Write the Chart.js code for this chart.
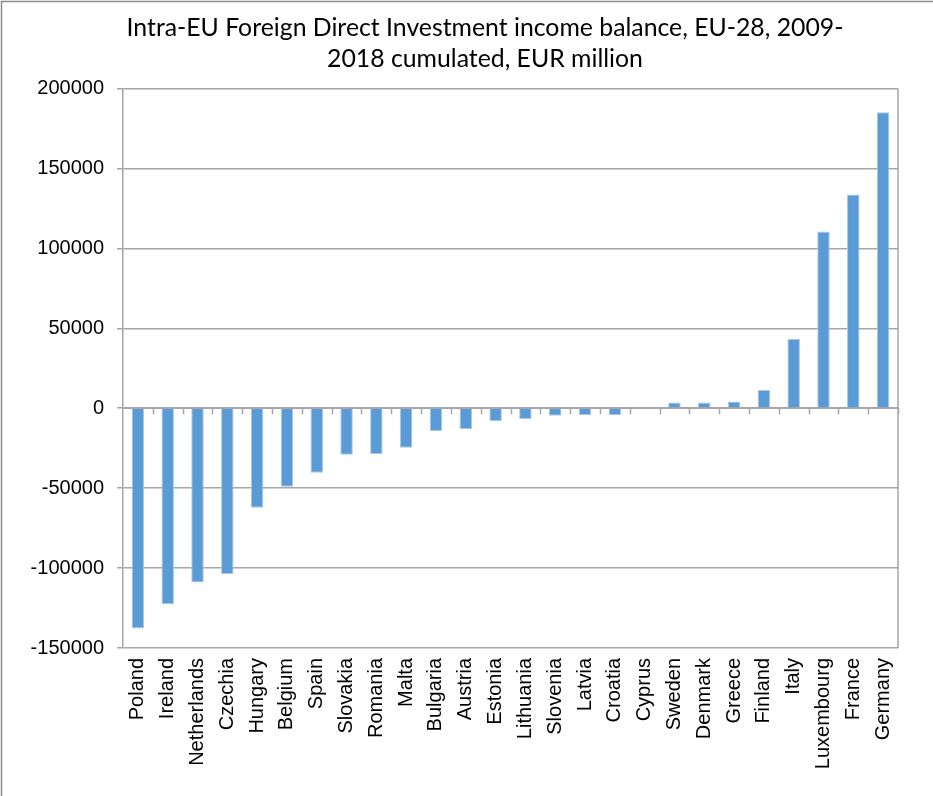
<!DOCTYPE html>
<html>
<head>
<meta charset="utf-8">
<script src="https://cdn.jsdelivr.net/npm/chart.js@4"></script>
<style>
  html, body { margin: 0; padding: 0; background: #fff; }
  #wrap { width: 933px; height: 796px; position: relative; }
</style>
</head>
<body>
<div id="wrap"><canvas id="fdi-chart"></canvas></div>
<script>
// countries, sorted by cumulated balance
const countries = ['Poland', 'Ireland', 'Netherlands', 'Czechia', 'Hungary', 'Belgium', 'Spain',
  'Slovakia', 'Romania', 'Malta', 'Bulgaria', 'Austria', 'Estonia', 'Lithuania', 'Slovenia',
  'Latvia', 'Croatia', 'Cyprus', 'Sweden', 'Denmark', 'Greece', 'Finland', 'Italy',
  'Luxembourg', 'France', 'Germany'];
// income balance 2009-2018, EUR million
const balance = [-137800, -122600, -109100, -103700, -62200, -49100, -40300,
  -29100, -28700, -24800, -14200, -13100, -8100, -6700, -4700,
  -4400, -4400, 0, 3500, 3500, 4200, 11400, 43500,
  110500, 133700, 185100];
const yMin = -150000;
const yMax = 200000;
const yStep = 50000;

const titleLines = ['Intra-EU Foreign Direct Investment income balance, EU-28, 2009-',
  '2018 cumulated, EUR million'];

const gridGrey = '#a6a6a6';

// frame round the whole chart, right border of the plot, ticks on the zero line
const framePlugin = {
  id: 'frame',
  beforeDraw(chart) {
    const ctx = chart.ctx;
    ctx.save();
    ctx.strokeStyle = '#8c8c8c';
    ctx.lineWidth = 1.5;
    ctx.beginPath();
    ctx.moveTo(1.5, chart.height);
    ctx.lineTo(1.5, 1.5);
    ctx.lineTo(chart.width, 1.5);
    ctx.stroke();
    ctx.restore();
  },
  afterDatasetsDraw(chart) {
    const ctx = chart.ctx;
    const area = chart.chartArea;
    const x = chart.scales.x;
    const y0 = chart.scales.y.getPixelForValue(0);
    ctx.save();
    ctx.strokeStyle = gridGrey;
    ctx.lineWidth = 1.5;
    ctx.beginPath();
    ctx.moveTo(area.right, area.top);
    ctx.lineTo(area.right, area.bottom);
    ctx.moveTo(area.left, y0);
    ctx.lineTo(area.right, y0);
    const step = (x.getPixelForValue(1) - x.getPixelForValue(0));
    for (let i = 0; i < countries.length; i++) {
      const px = Math.round(x.getPixelForValue(i) + step / 2) + 0.5;
      ctx.moveTo(px, y0);
      ctx.lineTo(px, y0 + 6);
    }
    ctx.stroke();
    ctx.restore();
  }
};

const ctx = document.getElementById('fdi-chart').getContext('2d');
new Chart(ctx, {
  type: 'bar',
  data: {
    labels: countries,
    datasets: [{
      data: balance,
      backgroundColor: '#5b9bd5',
      borderColor: '#a9c9ea',
      borderWidth: 1,
      barPercentage: 0.42,
      categoryPercentage: 1
    }]
  },
  options: {
    responsive: true,
    maintainAspectRatio: false,
    animation: false,
    // uneven side padding keeps the title centred a little right of the canvas middle
    layout: { padding: { top: 3, right: -11, left: 26, bottom: 0 } },
    plugins: {
      legend: { display: false },
      tooltip: { enabled: false },
      title: {
        display: true,
        text: titleLines,
        color: '#000',
        font: { family: 'Lato', size: 24.8, weight: 'normal', lineHeight: 1.24 },
        padding: { top: 10, bottom: 14 }
      }
    },
    scales: {
      x: {
        grid: { display: false, drawTicks: false },
        border: { display: false },
        ticks: {
          color: '#000',
          font: { family: 'Liberation Sans', size: 20 },
          minRotation: 90,
          maxRotation: 90,
          autoSkip: false,
          padding: 10
        },
        afterFit(scale) { scale.height = 148; }
      },
      y: {
        min: yMin,
        max: yMax,
        grid: {
          color: gridGrey,
          lineWidth: 1.5,
          tickLength: 6,
          drawTicks: true
        },
        border: { color: gridGrey, width: 1.5 },
        ticks: {
          stepSize: yStep,
          color: '#000',
          font: { family: 'Liberation Sans', size: 20 },
          padding: 13,
          callback: v => String(v)
        },
        afterFit(scale) { scale.width = 97; }
      },
      // empty strip on the right of the plot
      yRight: {
        position: 'right',
        min: yMin,
        max: yMax,
        grid: { display: false, drawTicks: false },
        border: { display: false },
        ticks: { display: false },
        afterFit(scale) { scale.width = 46; }
      }
    }
  },
  plugins: [framePlugin]
});
</script>
</body>
</html>
